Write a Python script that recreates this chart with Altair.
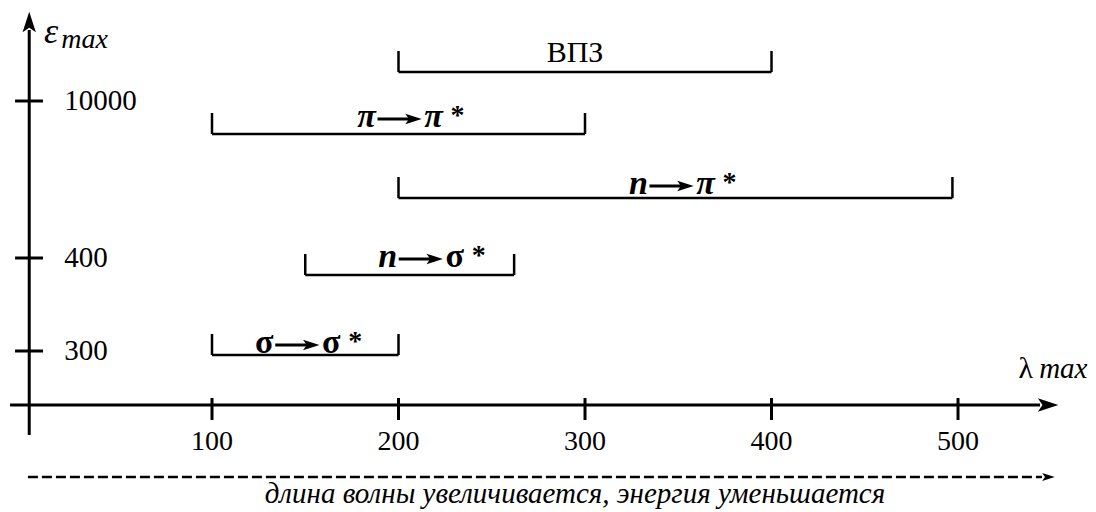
import altair as alt
import pandas as pd

# ---- data ----
# x axis: wavelength lambda_max (nm)
x_ticks = [100, 200, 300, 400, 500]
x_tick_labels = ["100", "200", "300", "400", "500"]

# y axis: epsilon_max (schematic levels, not linear)
y_tick_labels = ["300", "400", "10000"]
y_tick_levels = [54, 147, 304]

# electronic transitions: wavelength ranges and schematic level
trans_from = ["σ", "n", "n", "π"]
trans_to = ["σ", "σ", "π", "π"]
trans_start = [100, 150, 200, 100]
trans_end = [200, 262, 497, 300]
trans_level = [50, 130, 207, 271]

cts_label = ["ВПЗ"]
cts_start = [200]
cts_end = [400]
cts_level = [333]

caption = "длина волны увеличивается, энергия уменьшается"

# ---- scales / styling ----
W, H = 1080, 504
X_DOM = [-9.383, 569.7]
Y_DOM = [405 - 8 - H, 397]          # 1 unit = 1 px, 0 on the x axis
PPU = W / (X_DOM[1] - X_DOM[0])      # pixels per nm
xs = alt.Scale(domain=X_DOM, nice=False, zero=False)
ys = alt.Scale(domain=Y_DOM, nice=False, zero=False)


def X(f, **kw):
    return alt.X(f, type="quantitative", scale=xs, axis=None, **kw)


def Y(f, **kw):
    return alt.Y(f, type="quantitative", scale=ys, axis=None, **kw)


SERIF = "Liberation Serif"
BRACKET_H = 21
SYM_ITALIC = {"σ": "normal", "n": "italic", "π": "italic"}
# label placement tweaks (px): horizontal shift, baseline rise above bracket
LABEL_DX = [3, 22, 7, 12]
LABEL_DY = [2, 8, 4, 7]
ARROW = "M 1 0 L -1 -0.65 L -0.55 0 L -1 0.65 Z"

trans = pd.DataFrame({"from": trans_from, "to": trans_to, "start": trans_start,
                      "end": trans_end, "level": trans_level})
cts = pd.DataFrame({"label": cts_label, "start": cts_start,
                    "end": cts_end, "level": cts_level})
brackets = pd.concat([trans[["start", "end", "level"]],
                      cts[["start", "end", "level"]]], ignore_index=True)

layers = []

# horizontal bracket lines
layers.append(alt.Chart(brackets).mark_rule(strokeWidth=2.5, color="black").encode(
    x=X("start"), x2=alt.X2("end"), y=Y("level")))

# bracket end ticks
layers.append(alt.Chart(brackets).transform_fold(
    ["start", "end"], as_=["side", "xpos"]
).transform_calculate(top=f"datum.level + {BRACKET_H}").mark_rule(
    strokeWidth=2.5, color="black").encode(
    x=X("xpos"), y=Y("level"), y2=alt.Y2("top")))

# transition labels: symbol -> arrow -> symbol *
for i in range(len(trans)):
    row = trans.iloc[[i]]
    dx, dy = LABEL_DX[i], LABEL_DY[i]
    base = alt.Chart(row).transform_calculate(
        cx="(datum.start + datum.end) / 2",
        by=f"datum.level + {dy}",
        ay=f"datum.level + {dy} + 8",
    )
    for field, off in (("from", -44), ("to", 23)):
        sym = row[field].iloc[0]
        layers.append(base.mark_text(
            font=SERIF, fontSize=34, fontWeight="bold", fontStyle=SYM_ITALIC[sym],
            align="center", baseline="alphabetic", dx=dx + off, color="black"
        ).encode(x=X("cx"), y=Y("by"), text=f"{field}:N"))
    layers.append(base.transform_calculate(star="'*'").mark_text(
        font=SERIF, fontSize=28, fontWeight="bold", align="center",
        baseline="alphabetic", dx=dx + 47, dy=-3, color="black"
    ).encode(x=X("cx"), y=Y("by"), text="star:N"))
    layers.append(base.transform_calculate(
        a0=f"datum.cx + {(dx - 33) / PPU}", a1=f"datum.cx + {(dx + 3) / PPU}"
    ).mark_rule(strokeWidth=3, color="black").encode(
        x=X("a0"), x2=alt.X2("a1"), y=Y("ay")))
    layers.append(base.transform_calculate(
        ah=f"datum.cx + {(dx + 3) / PPU}"
    ).mark_point(shape=ARROW, size=270, filled=True, color="black", opacity=1,
                 strokeWidth=0).encode(x=X("ah"), y=Y("ay")))

# charge-transfer band label
layers.append(alt.Chart(cts).transform_calculate(
    mid="(datum.start + datum.end) / 2", ty="datum.level + 10"
).mark_text(font=SERIF, fontSize=30, baseline="alphabetic", align="center",
            dx=-10, color="black").encode(
    x=X("mid"), y=Y("ty"), text="label:N"))

# axis lines
axis_lines = pd.DataFrame({"x": [-8.3, 2.0], "x2": [544.0, 2.0],
                           "y": [0.0, -30.0], "y2": [0.0, 375.0]})
layers.append(alt.Chart(axis_lines).mark_rule(strokeWidth=3, color="black").encode(
    x=X("x"), x2=alt.X2("x2"), y=Y("y"), y2=alt.Y2("y2")))

# arrow heads
heads = pd.DataFrame({"x": [548.3, 2.0], "y": [0.0, 383.0], "ang": [0, 270]})
layers.append(alt.Chart(heads).mark_point(shape=ARROW, size=420, filled=True,
                                          color="black", opacity=1, strokeWidth=0).encode(
    x=X("x"), y=Y("y"), angle=alt.Angle("ang:Q", scale=None)))

# x ticks
xt = pd.DataFrame({"x": x_ticks, "lab": x_tick_labels})
layers.append(alt.Chart(xt).transform_calculate(lo="-15", hi="7").mark_rule(
    strokeWidth=3, color="black").encode(x=X("x"), y=Y("lo"), y2=alt.Y2("hi")))
layers.append(alt.Chart(xt).transform_calculate(ty="-37").mark_text(
    font=SERIF, fontSize=28, baseline="middle", align="center", color="black").encode(
    x=X("x"), y=Y("ty"), text="lab:N"))

# y ticks
yt = pd.DataFrame({"y": y_tick_levels, "lab": y_tick_labels})
layers.append(alt.Chart(yt).transform_calculate(lo="-5.6", hi="9.4").mark_rule(
    strokeWidth=3, color="black").encode(x=X("lo"), x2=alt.X2("hi"), y=Y("y")))
layers.append(alt.Chart(yt).transform_calculate(tx="20.8").mark_text(
    font=SERIF, fontSize=29, baseline="middle", align="left", color="black").encode(
    x=X("tx"), y=Y("y"), text="lab:N"))

# axis titles
titles = [
    ("ε", 9.9, 362.0, 36, "italic"),
    ("max", 19.2, 357.0, 28, "italic"),
    ("λ", 532.5, 27.0, 30, "normal"),
    ("max", 543.5, 27.0, 29, "italic"),
]
for t, tx, ty, size, style in titles:
    layers.append(alt.Chart(pd.DataFrame({"t": [t], "x": [tx], "y": [ty]})).mark_text(
        font=SERIF, fontSize=size, fontStyle=style, align="left",
        baseline="alphabetic", color="black").encode(
        x=X("x"), y=Y("y"), text="t:N"))

# dashed direction arrow + caption
layers.append(alt.Chart(pd.DataFrame({"x": [1.3], "x2": [545.0], "y": [-72.0]})).mark_rule(
    strokeWidth=2.5, color="black", strokeDash=[10, 4]).encode(
    x=X("x"), x2=alt.X2("x2"), y=Y("y")))
layers.append(alt.Chart(pd.DataFrame({"x": [548.5], "y": [-72.0]})).mark_point(
    shape=ARROW, size=160, filled=True, color="black", opacity=1, strokeWidth=0).encode(
    x=X("x"), y=Y("y")))
layers.append(alt.Chart(pd.DataFrame({"t": [caption], "x": [294.6], "y": [-98.0]})).mark_text(
    font=SERIF, fontSize=29, fontStyle="italic", align="center", baseline="alphabetic",
    color="black").encode(x=X("x"), y=Y("y"), text="t:N"))

chart = alt.layer(*layers).properties(
    width=W, height=H, padding=0, autosize="none", background="white"
).configure_view(strokeWidth=0)

chart.save("out.html", embed_options={"renderer": "svg", "actions": False})
